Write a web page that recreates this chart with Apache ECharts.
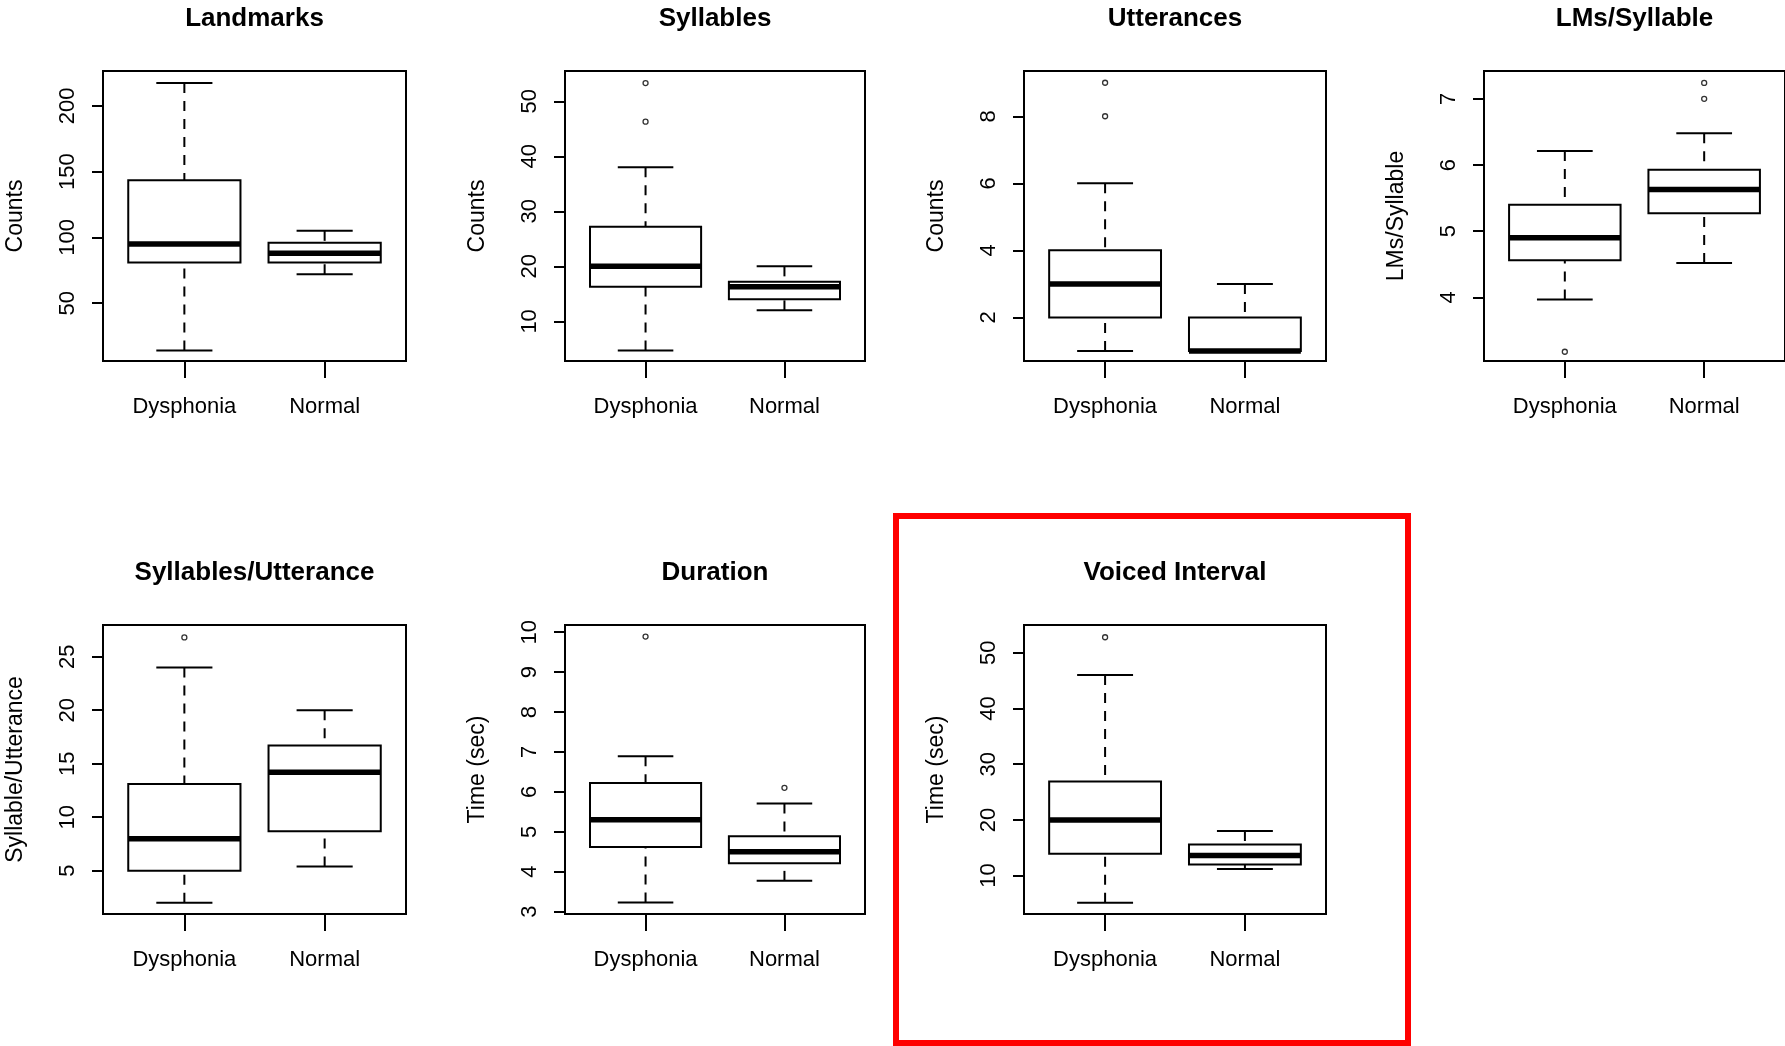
<!DOCTYPE html>
<html>
<head>
<meta charset="utf-8">
<script src="https://cdn.jsdelivr.net/npm/echarts@6/dist/echarts.min.js"></script>
<style>
html, body { margin: 0; padding: 0; background: #fff; }
#main { width: 1785px; height: 1046px; }
</style>
</head>
<body>
<div id="main"></div>
<script>
// groups on the x axis
const groups = ['Dysphonia', 'Normal'];

// box stats per group: [lower whisker, Q1, median, Q3, upper whisker]
const landmarksBox = [[14, 81, 95, 143.5, 217.5], [72, 81, 88, 96, 105]];
const landmarksOut = [[], []];
const landmarksTicks = [50, 100, 150, 200];

const syllablesBox = [[4.7, 16.3, 20, 27.2, 38], [12, 14, 16.3, 17.2, 20]];
const syllablesOut = [[46.3, 53.3], []];
const syllablesTicks = [10, 20, 30, 40, 50];

const utterancesBox = [[1, 2, 3, 4, 6], [1, 1, 1, 2, 3]];
const utterancesOut = [[8, 9], []];
const utterancesTicks = [2, 4, 6, 8];

const lmsBox = [[3.97, 4.56, 4.9, 5.4, 6.21], [4.52, 5.27, 5.63, 5.93, 6.48]];
const lmsOut = [[3.18], [7.0, 7.24]];
const lmsTicks = [4, 5, 6, 7];

const sylUttBox = [[2, 5, 8, 13.1, 24], [5.4, 8.7, 14.2, 16.7, 20]];
const sylUttOut = [[26.8], []];
const sylUttTicks = [5, 10, 15, 20, 25];

const durationBox = [[3.23, 4.62, 5.3, 6.22, 6.89], [3.77, 4.21, 4.5, 4.89, 5.71]];
const durationOut = [[9.89], [6.1]];
const durationTicks = [3, 4, 5, 6, 7, 8, 9, 10];

const voicedBox = [[5.1, 13.9, 20, 26.9, 46], [11.2, 12, 13.6, 15.6, 18]];
const voicedOut = [[52.8], []];
const voicedTicks = [10, 20, 30, 40, 50];

const panels = [
  { title: 'Landmarks', yName: 'Counts', box: landmarksBox, out: landmarksOut, ticks: landmarksTicks, min: 6, max: 226.6 },
  { title: 'Syllables', yName: 'Counts', box: syllablesBox, out: syllablesOut, ticks: syllablesTicks, min: 2.8, max: 55.5 },
  { title: 'Utterances', yName: 'Counts', box: utterancesBox, out: utterancesOut, ticks: utterancesTicks, min: 0.7, max: 9.35 },
  { title: 'LMs/Syllable', yName: 'LMs/Syllable', box: lmsBox, out: lmsOut, ticks: lmsTicks, min: 3.04, max: 7.42 },
  { title: 'Syllables/Utterance', yName: 'Syllable/Utterance', box: sylUttBox, out: sylUttOut, ticks: sylUttTicks, min: 0.96, max: 27.96 },
  { title: 'Duration', yName: 'Time (sec)', box: durationBox, out: durationOut, ticks: durationTicks, min: 2.94, max: 10.18 },
  { title: 'Voiced Interval', yName: 'Time (sec)', box: voicedBox, out: voicedOut, ticks: voicedTicks, min: 3.1, max: 55.0 }
];

const FONT = '"Liberation Sans", Arial, sans-serif';
const cols = [[103, 303], [565, 300], [1024, 302], [1484, 301]];
const rows = [[71, 290], [625, 289]];

function cell(i) {
  const c = cols[i < 4 ? i : i - 4];
  const r = rows[i < 4 ? 0 : 1];
  return { left: c[0], width: c[1], top: r[0], height: r[1] };
}

function renderBox(params, api) {
  const x = api.value(0);
  const lo = api.coord([x, api.value(1)]);
  const q1 = api.coord([x, api.value(2)]);
  const med = api.coord([x, api.value(3)]);
  const q3 = api.coord([x, api.value(4)]);
  const hi = api.coord([x, api.value(5)]);
  const cx = lo[0];
  const hw = api.size([0.4, 0])[0];
  const cw = api.size([0.2, 0])[0];
  const solid = { stroke: '#000', lineWidth: 2, fill: null };
  const dashed = { stroke: '#000', lineWidth: 2, lineDash: [10, 8], fill: null };
  return {
    type: 'group',
    children: [
      { type: 'line', shape: { x1: cx, y1: lo[1], x2: cx, y2: q1[1] }, style: dashed },
      { type: 'line', shape: { x1: cx, y1: hi[1], x2: cx, y2: q3[1] }, style: dashed },
      { type: 'line', shape: { x1: cx - cw, y1: lo[1], x2: cx + cw, y2: lo[1] }, style: solid },
      { type: 'line', shape: { x1: cx - cw, y1: hi[1], x2: cx + cw, y2: hi[1] }, style: solid },
      { type: 'rect', shape: { x: cx - hw, y: q3[1], width: 2 * hw, height: q1[1] - q3[1] },
        style: { fill: '#fff', stroke: '#000', lineWidth: 2 } },
      { type: 'line', shape: { x1: cx - hw, y1: med[1], x2: cx + hw, y2: med[1] },
        style: { stroke: '#000', lineWidth: 5.5 } }
    ]
  };
}

const option = {
  backgroundColor: '#fff',
  animation: false,
  title: panels.map((p, i) => {
    const g = cell(i);
    return {
      text: p.title,
      left: g.left + g.width / 2,
      top: g.top - 65,
      textAlign: 'center',
      padding: 0,
      textStyle: { fontFamily: FONT, fontSize: 26, fontWeight: 'bold', color: '#000' }
    };
  }),
  grid: panels.map((p, i) => Object.assign(cell(i), {
    show: true, borderColor: '#000', borderWidth: 2, backgroundColor: 'transparent'
  })),
  xAxis: panels.map((p, i) => ({
    type: 'value',
    gridIndex: i,
    min: 0.42,
    max: 2.58,
    axisLine: { show: false },
    splitLine: { show: false },
    axisTick: { show: true, customValues: [1, 2], length: 17, lineStyle: { color: '#000', width: 2 } },
    axisLabel: {
      customValues: [1, 2],
      margin: 35,
      formatter: v => groups[Math.round(v) - 1],
      fontFamily: FONT, fontSize: 22, color: '#000'
    }
  })),
  yAxis: panels.map((p, i) => ({
    type: 'value',
    gridIndex: i,
    min: p.min,
    max: p.max,
    name: p.yName,
    nameLocation: 'middle',
    nameRotate: 90,
    nameGap: 76,
    nameTextStyle: { fontFamily: FONT, fontSize: 23, color: '#000' },
    axisLine: { show: false },
    splitLine: { show: false },
    axisTick: { show: true, customValues: p.ticks, length: 11, lineStyle: { color: '#000', width: 2 } },
    axisLabel: {
      customValues: p.ticks,
      rotate: 90,
      margin: 24,
      fontFamily: FONT, fontSize: 22, color: '#000'
    }
  })),
  series: [].concat(
    panels.map((p, i) => ({
      type: 'custom',
      xAxisIndex: i,
      yAxisIndex: i,
      renderItem: renderBox,
      encode: { x: 0, y: [1, 2, 3, 4, 5] },
      data: p.box.map((s, k) => [k + 1].concat(s))
    })),
    panels.map((p, i) => ({
      type: 'scatter',
      xAxisIndex: i,
      yAxisIndex: i,
      symbol: 'circle',
      symbolSize: 5,
      itemStyle: { color: '#fff', borderColor: '#000', borderWidth: 1.3 },
      z: 5,
      data: p.out.reduce((acc, vals, k) => acc.concat(vals.map(v => [k + 1, v])), [])
    }))
  ),
  graphic: [{
    type: 'rect',
    shape: { x: 896, y: 516, width: 512, height: 527 },
    style: { fill: null, stroke: '#ff0000', lineWidth: 6 },
    z: 100
  }]
};

const chart = echarts.init(document.getElementById('main'));
chart.setOption(option);
window.addEventListener('resize', () => chart.resize());
</script>
</body>
</html>
